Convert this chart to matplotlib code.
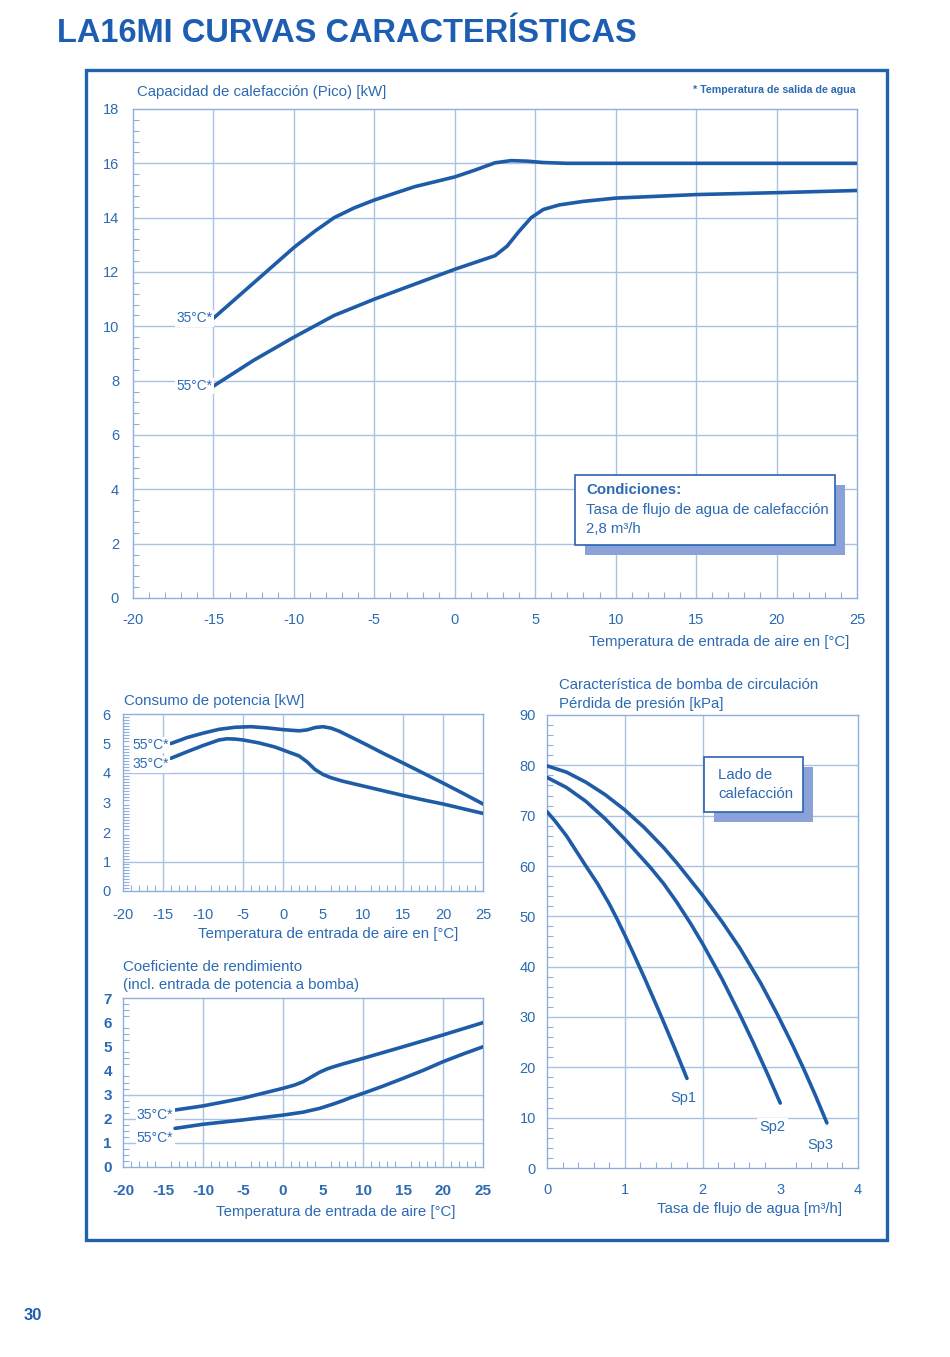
import numpy as np
import matplotlib.pyplot as plt
from matplotlib.patches import Rectangle
from matplotlib.ticker import MultipleLocator

W, H = 950, 1357
LINE = '#1f5ca8'
TXT = '#2c6ab4'
GRID = '#a9c2e3'
SPINE = '#8eaedb'
SHADOW = '#8aa2d8'
plt.rcParams['font.family'] = ['Liberation Sans', 'DejaVu Sans']
plt.rcParams['axes.unicode_minus'] = False
LAB = 10.8

# heating capacity [kW] vs air inlet temperature
cap_t35 = [-15, -12.5, -10, -8.75, -7.5, -6.25, -5, -2.5, 0, 1.25, 2.5, 3.5, 4.5, 5.5, 7, 10, 15, 20, 25]
cap_35 = [10.3, 11.6, 12.9, 13.48, 14.0, 14.36, 14.65, 15.14, 15.5, 15.75, 16.02, 16.1, 16.08, 16.03, 16.0,
          16.0, 16.0, 16.0, 16.0]
cap_t55 = [-15, -12.5, -10, -7.5, -5, -2.5, 0, 2.5, 3.25, 4, 4.75, 5.5, 6.5, 8, 10, 15, 20, 25]
cap_55 = [7.8, 8.75, 9.6, 10.4, 11.0, 11.55, 12.1, 12.6, 12.95, 13.5, 14.0, 14.3, 14.47, 14.6, 14.72,
          14.85, 14.92, 15.0]

# power consumption [kW]
pw_t55 = [-14, -12, -10, -8, -6, -4, -2, 0, 2, 3, 4, 5, 6, 7, 8.5, 10.5, 12.5, 15, 17.5, 20, 22.5, 25]
pw_55 = [5.0, 5.2, 5.35, 5.48, 5.55, 5.57, 5.53, 5.47, 5.43, 5.46, 5.54, 5.57, 5.52, 5.42, 5.22, 4.95,
         4.67, 4.34, 4.0, 3.66, 3.31, 2.95]
pw_t35 = [-14, -12, -10, -8, -7, -6, -5, -3, -1, 0, 1, 2, 3, 4, 5, 6, 7.5, 10, 12.5, 15, 17.5, 20, 22.5, 25]
pw_35 = [4.5, 4.72, 4.93, 5.12, 5.16, 5.15, 5.12, 5.02, 4.88, 4.78, 4.68, 4.58, 4.38, 4.12, 3.95, 3.84,
         3.72, 3.56, 3.4, 3.24, 3.09, 2.95, 2.79, 2.63]

# COP
cop_t35 = [-13.5, -10, -5, 0, 1.5, 2.5, 3.5, 4.6, 5.5, 6.3, 7.5, 10, 15, 20, 25]
cop_35 = [2.36, 2.53, 2.85, 3.26, 3.4, 3.53, 3.72, 3.93, 4.06, 4.15, 4.27, 4.5, 4.98, 5.47, 5.98]
cop_t55 = [-13.5, -10, -5, 0, 2.5, 4.6, 6.3, 7.5, 8.5, 10, 12.5, 15, 17.5, 20, 22.5, 25]
cop_55 = [1.6, 1.77, 1.95, 2.15, 2.27, 2.43, 2.61, 2.75, 2.88, 3.05, 3.35, 3.67, 4.0, 4.36, 4.68, 4.98]

# circulation pump, pressure loss [kPa] vs flow [m3/h]
sp1_q = [0, 0.1, 0.25, 0.5, 0.65, 0.8, 0.9, 1.0, 1.1, 1.25, 1.4, 1.5, 1.65, 1.8]
sp1_p = [70.8, 69.0, 66.0, 60.0, 56.5, 52.5, 49.5, 46.3, 43.0, 37.9, 32.6, 29.0, 23.5, 17.8]
sp2_q = [0, 0.25, 0.5, 0.75, 1.0, 1.33, 1.5, 1.67, 1.85, 2.0, 2.25, 2.48, 2.65, 2.83, 3.0]
sp2_p = [77.6, 75.6, 72.85, 69.35, 65.35, 59.7, 56.5, 52.8, 48.5, 44.6, 37.6, 30.5, 25.0, 18.9, 12.9]
sp3_q = [0, 0.25, 0.5, 0.75, 1.0, 1.25, 1.5, 1.67, 2.0, 2.25, 2.48, 2.75, 2.95, 3.15, 3.3, 3.45, 3.6]
sp3_p = [79.9, 78.65, 76.65, 74.15, 71.15, 67.65, 63.65, 60.6, 54.2, 48.95, 43.7, 36.7, 30.9, 24.7, 19.75,
         14.5, 8.95]


def fx(px):
    return px / W


def fy(py):
    return 1 - py / H


def make_ax(x0, y0, x1, y1):
    return fig.add_axes([fx(x0), fy(y1), (x1 - x0) / W, (y1 - y0) / H])


def style(ax, xlim, ylim, xmaj, ymaj, xmin, ymin, xgrid, ygrid, xpad, ypad, size=10.5, weight='normal'):
    ax.set_xlim(*xlim)
    ax.set_ylim(*ylim)
    ax.xaxis.set_major_locator(MultipleLocator(xmaj))
    ax.yaxis.set_major_locator(MultipleLocator(ymaj))
    ax.xaxis.set_minor_locator(MultipleLocator(xmin))
    ax.yaxis.set_minor_locator(MultipleLocator(ymin))
    ax.tick_params(which='major', length=0, labelcolor=TXT, labelsize=size)
    ax.tick_params(axis='x', which='major', pad=xpad)
    ax.tick_params(axis='y', which='major', pad=ypad)
    ax.tick_params(which='minor', direction='in', length=4, width=0.8, color=SPINE)
    for lab in ax.get_xticklabels() + ax.get_yticklabels():
        lab.set_fontweight(weight)
    for s in ax.spines.values():
        s.set_color(SPINE)
        s.set_linewidth(1.0)
    for v in xgrid:
        ax.axvline(v, color=GRID, lw=1.0, zorder=1)
    for v in ygrid:
        ax.axhline(v, color=GRID, lw=1.0, zorder=1)


def draw(ax, x, y):
    ax.plot(x, y, color=LINE, lw=2.6, solid_joinstyle='round', solid_capstyle='round', zorder=3)


def curve_label(ax, x, y, s, size=10):
    ax.text(x, y, s, ha='right', va='center', fontsize=size, color=TXT, zorder=4,
            bbox=dict(facecolor='white', edgecolor='none', pad=1.0))


def label(px, py, s, ha='left', size=LAB, weight='normal'):
    fig.text(fx(px), fy(py), s, ha=ha, va='center', fontsize=size, color=TXT, fontweight=weight, zorder=7)


def info_box(x0, y0, x1, y1, lines, dx=10, dy=10):
    fig.patches.append(Rectangle((fx(x0 + dx), fy(y1 + dy)), (x1 - x0) / W, (y1 - y0) / H,
                                 transform=fig.transFigure, facecolor=SHADOW, edgecolor='none', zorder=5))
    fig.patches.append(Rectangle((fx(x0), fy(y1)), (x1 - x0) / W, (y1 - y0) / H,
                                 transform=fig.transFigure, facecolor='white', edgecolor='#2a64b0',
                                 lw=1.2, zorder=6))
    for px, py, s, w in lines:
        label(px, py, s, weight=w)


fig = plt.figure(figsize=(W / 100, H / 100), dpi=100)

# page frame and title
fig.patches.append(Rectangle((fx(86), fy(1240)), (887 - 86) / W, (1240 - 70) / H,
                             transform=fig.transFigure, fill=False, edgecolor='#2162ad', lw=2.4, zorder=0))
fig.text(fx(57), fy(34), 'LA16MI CURVAS CARACTERÍSTICAS', ha='left', va='center',
         fontsize=23.5, fontweight='bold', color='#1d5eb2')
fig.text(fx(24), fy(1316), '30', ha='left', va='center', fontsize=12, fontweight='bold', color='#1d5eb2')

# --- heating capacity
ax1 = make_ax(133, 109, 857, 598)
style(ax1, (-20, 25), (0, 18), 5, 2, 1, 0.4, range(-15, 25, 5), range(2, 18, 2), 11, 10)
draw(ax1, cap_t35, cap_35)
draw(ax1, cap_t55, cap_55)
curve_label(ax1, -15.05, 10.3, '35°C*', 9.8)
curve_label(ax1, -15.05, 7.8, '55°C*', 9.8)
label(137, 92, 'Capacidad de calefacción (Pico) [kW]')
label(856, 90, '* Temperatura de salida de agua', ha='right', size=7.7, weight='bold')
label(849, 642, 'Temperatura de entrada de aire en [°C]', ha='right')
info_box(575, 475, 835, 545, [(586, 490, 'Condiciones:', 'bold'),
                              (586, 510, 'Tasa de flujo de agua de calefacción', 'normal'),
                              (586, 529, '2,8 m³/h', 'normal')])

# --- power consumption
ax2 = make_ax(123, 714, 483, 891)
style(ax2, (-20, 25), (0, 6), 5, 1, 1, 0.1, [-15, -5, 0, 15, 20], [1, 4], 12, 9)
draw(ax2, pw_t55, pw_55)
draw(ax2, pw_t35, pw_35)
curve_label(ax2, -14.3, 4.95, '55°C*', 10)
curve_label(ax2, -14.3, 4.3, '35°C*', 10)
label(124, 701, 'Consumo de potencia [kW]')
label(328, 934, 'Temperatura de entrada de aire en [°C]', ha='center')

# --- COP
ax3 = make_ax(123, 998, 483, 1167)
style(ax3, (-20, 25), (0, 7), 5, 1, 1, 0.25, [-10, 0, 10, 20], [1, 2, 3], 12, 8,
      size=11, weight='bold')
draw(ax3, cop_t35, cop_35)
draw(ax3, cop_t55, cop_55)
curve_label(ax3, -13.7, 2.15, '35°C*', 10)
curve_label(ax3, -13.7, 1.2, '55°C*', 10)
label(123, 967, 'Coeficiente de rendimiento')
label(123, 985, '(incl. entrada de potencia a bomba)')
label(336, 1212, 'Temperatura de entrada de aire [°C]', ha='center')

# --- circulation pump
ax4 = make_ax(547, 715, 858, 1168)
style(ax4, (0, 4), (0, 90), 1, 10, 0.2, 2, [1, 2], range(10, 90, 10), 11, 8)
draw(ax4, sp1_q, sp1_p)
draw(ax4, sp2_q, sp2_p)
draw(ax4, sp3_q, sp3_p)
for q, p, s in [(1.75, 13.9, 'Sp1'), (2.9, 8.2, 'Sp2'), (3.51, 4.6, 'Sp3')]:
    ax4.text(q, p, s, ha='center', va='center', fontsize=10.5, color=TXT, zorder=4,
             bbox=dict(facecolor='white', edgecolor='none', pad=1.5))
label(559, 685, 'Característica de bomba de circulación')
label(559, 704, 'Pérdida de presión [kPa]')
label(750, 1209, 'Tasa de flujo de agua [m³/h]', ha='center')
info_box(704, 757, 803, 812, [(718, 775, 'Lado de', 'normal'), (718, 794, 'calefacción', 'normal')])

fig.savefig('out.png', dpi=100, facecolor='white')
